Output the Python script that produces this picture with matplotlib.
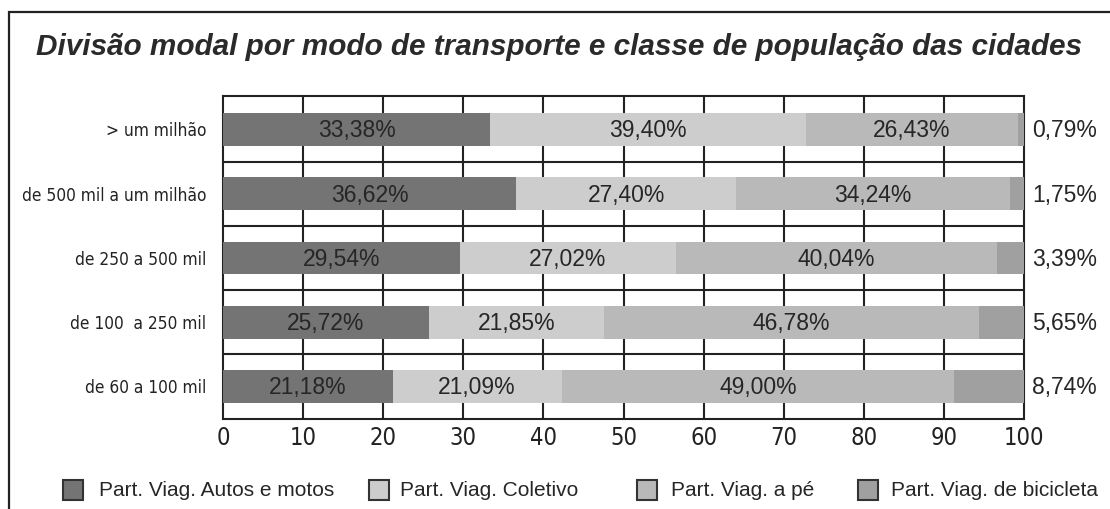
import matplotlib
matplotlib.use('Agg')
import matplotlib.pyplot as plt
from matplotlib.patches import Rectangle

# Data
cidades = ['> um milhão', 'de 500 mil a um milhão', 'de 250 a 500 mil',
           'de 100  a 250 mil', 'de 60 a 100 mil']
autos = [33.38, 36.62, 29.54, 25.72, 21.18]
coletivo = [39.40, 27.40, 27.02, 21.85, 21.09]
a_pe = [26.43, 34.24, 40.04, 46.78, 49.00]
bicicleta = [0.79, 1.75, 3.39, 5.65, 8.74]
series_names = ['Part. Viag. Autos e motos', 'Part. Viag. Coletivo',
                'Part. Viag. a pé', 'Part. Viag. de bicicleta']
xticks = [0, 10, 20, 30, 40, 50, 60, 70, 80, 90, 100]

colors = ['#747474', '#cdcdcd', '#b9b9b9', '#a0a0a0']
narrow = ['Liberation Sans Narrow', 'DejaVu Sans Condensed', 'DejaVu Sans']
sans = ['Liberation Sans', 'DejaVu Sans']
W, H = 1110, 509

fig = plt.figure(figsize=(11.1, 5.09), dpi=100)
ax = fig.add_axes([223 / W, 1 - 419 / H, 801 / W, 323 / H])

# outer frame (open at right and bottom, cropped in the original)
fig.patches.append(Rectangle((9 / W, -0.1), 1.2, 1 - 12 / H + 0.1,
                             transform=fig.transFigure, fill=False,
                             edgecolor='#222222', linewidth=1.6))

fig.text(559 / W, 1 - 47 / H, 'Divisão modal por modo de transporte e classe de população das cidades',
         ha='center', va='center', fontsize=21.4, fontweight='bold', style='italic',
         family=sans, color='#2a2a2a')

ypos = list(range(len(cidades)))
left = [0] * len(cidades)
for i, vals in enumerate([autos, coletivo, a_pe, bicicleta]):
    ax.barh(ypos, vals, left=left, height=0.51, color=colors[i],
            edgecolor='none', zorder=3, label=series_names[i])
    for y, l, v in zip(ypos, left, vals):
        txt = f'{v:.2f}%'.replace('.', ',')
        if i < 3:
            ax.text(l + v / 2, y + 0.02, txt, ha='center', va='center', fontsize=16.5,
                    family=sans, color='#262626', zorder=4)
        else:
            ax.text(101, y + 0.02, txt, ha='left', va='center', fontsize=16.5,
                    family=sans, color='#262626', clip_on=False)
    left = [l + v for l, v in zip(left, vals)]

ax.set_xlim(0, 100)
ax.set_ylim(4.506, -0.521)
ax.set_xticks(xticks)
ax.set_xticklabels([str(t) for t in xticks], family=narrow, stretch='condensed',
                   fontsize=17, color='#222222')
ax.set_yticks(ypos)
ax.set_yticklabels(cidades, family=narrow, stretch='condensed', fontsize=12.4,
                   color='#222222')
ax.tick_params(length=0, pad=12)
ax.tick_params(axis='x', pad=5)

for x in xticks[1:-1]:
    ax.axvline(x, color='#222222', linewidth=1.5, zorder=1)
for y in [0.5, 1.5, 2.5, 3.5]:
    ax.axhline(y, color='#222222', linewidth=1.5, zorder=1)
for s in ax.spines.values():
    s.set_linewidth(1.5)
    s.set_color('#222222')

# legend, laid out as in the original
leg_box_x = [63, 369, 637, 858]
leg_text_x = [99, 400, 671, 891]
leg_y = 490
for c, name, bx, tx in zip(colors, series_names, leg_box_x, leg_text_x):
    fig.patches.append(Rectangle((bx / W, 1 - (leg_y + 10) / H), 20 / W, 20 / H,
                                 transform=fig.transFigure, facecolor=c,
                                 edgecolor='#333333', linewidth=1.5))
    fig.text(tx / W, 1 - leg_y / H, name, ha='left', va='center', fontsize=15,
             family=sans, color='#262626')

fig.savefig('out.png', dpi=100)
